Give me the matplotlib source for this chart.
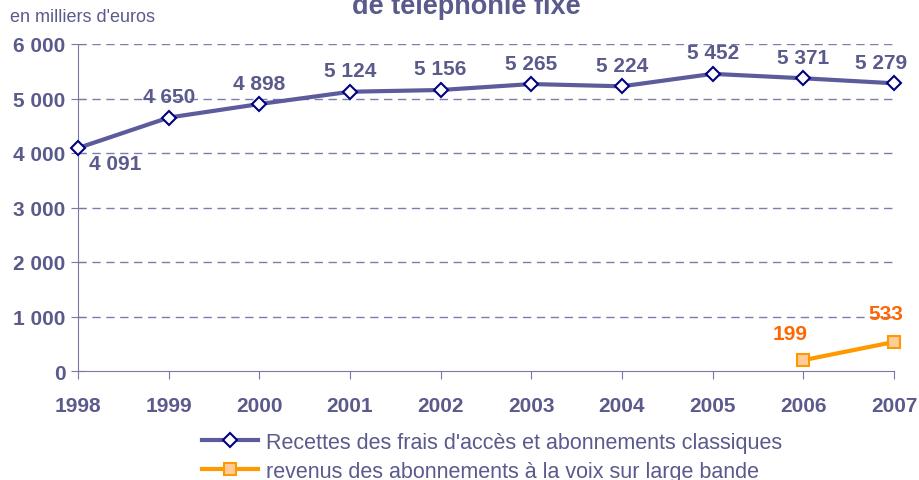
import matplotlib
matplotlib.use("Agg")
import matplotlib.pyplot as plt

years = [1998, 1999, 2000, 2001, 2002, 2003, 2004, 2005, 2006, 2007]
recettes = [4091, 4650, 4898, 5124, 5156, 5265, 5224, 5452, 5371, 5279]
voix_years = [2006, 2007]
voix = [199, 533]
yticks = [0, 1000, 2000, 3000, 4000, 5000, 6000]

txt = '#5a5a8c'
plt.rcParams['font.family'] = ['Liberation Sans', 'DejaVu Sans']

def fmt(v):
    return '{:,}'.format(v).replace(',', ' ')

fig = plt.figure(figsize=(9.19, 4.81), dpi=100)
ax = fig.add_axes([78/919, 1-372/481, (894-78)/919, (372-45)/481])
ax.set_xlim(1998, 2007)
ax.set_ylim(0, 6000)

for y in yticks[1:]:
    ax.axhline(y, color='#7c7cb0', lw=1, ls=(0, (6, 4)), zorder=1)

l1, = ax.plot(years, recettes, color='#5c5c9c', lw=3, marker='D', ms=7,
              mfc='white', mec='#000080', mew=1.5, zorder=3, clip_on=False)
l2, = ax.plot(voix_years, voix, color='#ff9900', lw=3, marker='s', ms=9,
              mfc='#ffcc99', mec='#ff9900', mew=1.5, zorder=3, clip_on=False)

for i, (x, v) in enumerate(zip(years, recettes)):
    if i == 0:
        off = (37, -15)
    elif i == len(years) - 1:
        off = (-13, 21)
    else:
        off = (0, 21)
    ax.annotate(fmt(v), (x, v), xytext=off, textcoords='offset pixels',
                ha='center', va='center', fontsize=15, fontweight='bold', color=txt)

ax.annotate(fmt(voix[0]), (voix_years[0], voix[0]), xytext=(-13, 27), textcoords='offset pixels',
            ha='center', va='center', fontsize=15, fontweight='bold', color='#ff6600')
ax.annotate(fmt(voix[1]), (voix_years[1], voix[1]), xytext=(-8, 28), textcoords='offset pixels',
            ha='center', va='center', fontsize=15, fontweight='bold', color='#ff6600')

for s in ['top', 'right']:
    ax.spines[s].set_visible(False)
for s in ['left', 'bottom']:
    ax.spines[s].set_color('#7878a8')
ax.set_xticks(years)
ax.set_yticks(yticks)
ax.set_yticklabels([fmt(v) for v in yticks])
ax.tick_params(axis='both', colors='#7878a8', labelcolor=txt, labelsize=15)
ax.tick_params(axis='x', length=6, direction='out', pad=12)
ax.tick_params(axis='y', length=10, direction='inout', pad=4)
for lab in ax.get_xticklabels() + ax.get_yticklabels():
    lab.set_fontweight('bold')

fig.text(10/919, 1-18/481, "en milliers d'euros", fontsize=13, color=txt, va='center')
fig.text(466/919, 1-14/481, "de téléphonie fixe", fontsize=19.5, fontweight='bold', color=txt,
         ha='center', va='baseline')

fig.legend([l1, l2], ["Recettes des frais d'accès et abonnements classiques",
                      "revenus des abonnements à la voix sur large bande"],
           loc='upper left', bbox_to_anchor=(202/919, 1-433/481), frameon=False,
           fontsize=15.5, labelcolor=txt, handlelength=2.6, handletextpad=0.35,
           labelspacing=0.35, borderpad=0, borderaxespad=0)

fig.savefig('out.png', dpi=100)
